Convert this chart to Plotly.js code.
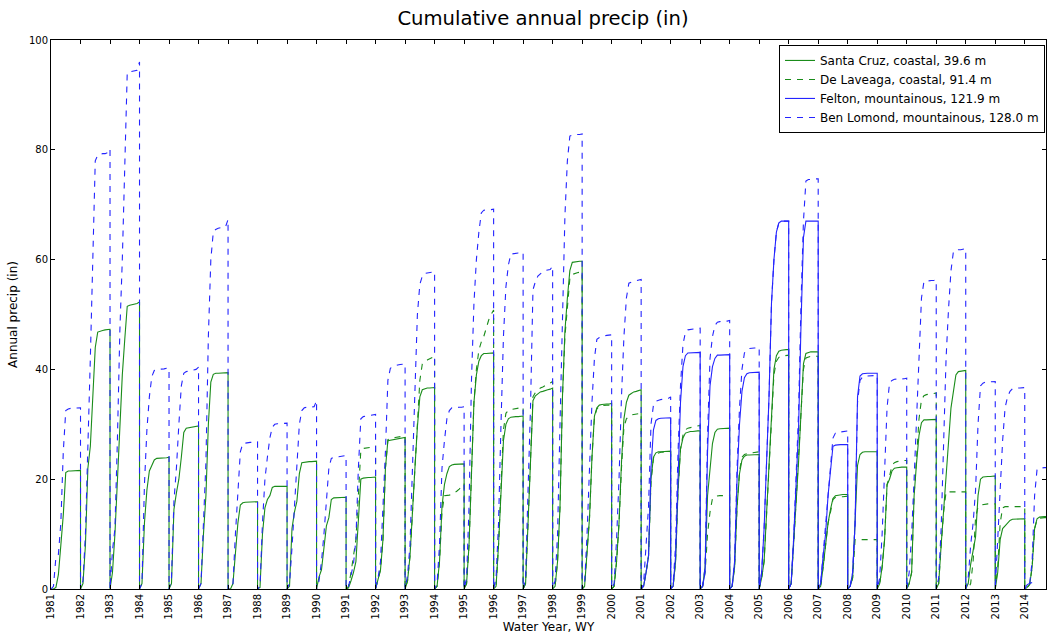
<!DOCTYPE html>
<html><head><meta charset="utf-8">
<script src="https://cdn.plot.ly/plotly-3.0.1.min.js"></script>
<style>html,body{margin:0;padding:0;background:#fff}#chart{width:1048px;height:641px}</style>
</head><body><div id="chart"></div>
<script>
// Water years (tick labels); each year's array = cumulative precip (in) at start + end of each month Oct..Sep
const waterYears = [1981,1982,1983,1984,1985,1986,1987,1988,1989,1990,1991,1992,1993,1994,1995,1996,1997,1998,1999,2000,2001,2002,2003,2004,2005,2006,2007,2008,2009,2010,2011,2012,2013,2014];
const yTicks = [0,20,40,60,80,100];

const santaCruz = [
 [0,0,0.3,2.6,8,13.5,21.2,21.5,21.5,21.5,21.5,21.5,21.6],
 [0,1,8,22,26,35,44,46.8,47,47.1,47.2,47.2,47.3],
 [0,3,10,20,31,39,45.5,51.5,51.7,51.8,51.9,52,52.3],
 [0,1,12,18,21.5,22.5,23.5,23.8,23.8,23.8,23.9,23.9,24],
 [0,1,14.5,17.5,20,24,28.5,29.3,29.4,29.5,29.6,29.6,29.7],
 [0,1,10,17,30,37.7,39.1,39.3,39.3,39.3,39.4,39.4,39.4],
 [0,0,1,6,12,15.3,15.7,15.8,15.8,15.8,15.8,15.8,15.9],
 [0,0.3,10,14.8,16.3,17,18.5,18.7,18.7,18.7,18.7,18.7,18.7],
 [0,0.5,11,14,16,21,23,23.1,23.2,23.2,23.2,23.3,23.3],
 [0,2.2,3.5,7.5,11.5,13,16.3,16.6,16.6,16.6,16.6,16.6,16.7],
 [0,0.2,1.5,3,5,12,20,20.2,20.3,20.3,20.3,20.3,20.4],
 [0,2,3.5,9,22,27,27.1,27.2,27.3,27.3,27.4,27.5,27.6],
 [0,1.5,6,13,22,29.5,35,36.3,36.5,36.6,36.6,36.6,36.7],
 [0,0.5,5,15,19,21,22.3,22.6,22.7,22.7,22.7,22.7,22.8],
 [0,1,8,22,34,39,41.5,42.5,42.9,42.9,42.9,42.9,43],
 [0,0.5,8,18,27,30,31,31.3,31.4,31.4,31.4,31.4,31.5],
 [0,1,12,22,34.3,35.2,35.6,35.9,36,36.2,36.3,36.4,36.6],
 [0,0.5,5,15,35,47,53,58,59.5,59.6,59.6,59.7,59.7],
 [0,0.5,7,13,24,31.5,33,33.5,33.6,33.7,33.7,33.7,33.8],
 [0,0.5,5,12,23,31,34,35.3,35.6,35.9,36,36.1,36.3],
 [0,0.5,3,6,20,24,24.8,25,25,25,25,25.1,25.1],
 [0,0.5,5,18,25.5,27.5,28.4,28.6,28.7,28.7,28.8,28.8,28.8],
 [0,0.5,4,17,22.5,26.5,28.5,29.1,29.2,29.2,29.2,29.2,29.3],
 [0,0.5,4,15,21,23.5,24.2,24.4,24.4,24.4,24.5,24.5,24.5],
 [0,2,5,14,22,31,40,42.5,43.3,43.5,43.6,43.6,43.6],
 [0,1,8,16,23,32,41,42.9,43.1,43.2,43.2,43.2,43.2],
 [0,0.5,4,8,12,14.5,16.5,17,17.1,17.2,17.2,17.2,17.2],
 [0,0.5,2,12,22.5,24.5,24.9,25,25,25,25,25,25],
 [0,1,4,9,19,20,21.5,22,22.1,22.2,22.2,22.2,22.2],
 [0,1,3,17,23,28,30.3,30.8,30.8,30.8,30.8,30.8,30.9],
 [0,1,8,14,21,26,33,36,39,39.6,39.7,39.7,39.8],
 [0,1,4.5,7,9.5,17,20,20.4,20.5,20.5,20.5,20.6,20.6],
 [0,3,9,11,11.5,12,12.5,12.7,12.7,12.7,12.8,12.8,12.8],
 [0,0.3,0.8,4,11,12.8,13.1,13.2,13.2,13.2]
];

const deLaveaga = [
 null,null,null,null,null,null,null,null,null,null,
 [0,0.5,3,6,9,17,25.3,25.6,25.7,25.7,25.8,25.8,26],
 [0,2,3.5,9,22,27.2,27.4,27.5,27.6,27.7,27.7,27.8,27.9],
 [0,1.5,6,13,22,30,38,41,41.5,41.7,41.9,42.1,42.4],
 [0,0.5,5,14,17,17,17.1,17.3,17.5,17.8,18.2,18.7,19.2],
 [0,1,8,22,34,40,43.5,45,46,47.5,49,50,50.8],
 [0,0.5,8,19,29,32,32.5,32.7,32.8,32.9,33,33,33.1],
 [0,1,12,23,35,35.8,36.3,36.6,36.8,37,37.2,37.5,37.8],
 [0,0.5,5,15,35,46,52,56.5,57.3,57.5,57.6,57.7,57.8],
 [0,0.5,7,13,24,31.3,32.8,33.3,33.4,33.5,33.5,33.5,33.6],
 [0,0.5,5,12,22,29.5,31,31.5,31.7,31.8,31.9,32,32],
 [0,0.5,3,6,19.5,23.8,24.6,24.8,24.9,24.9,24.9,25,25],
 [0,0.5,5,18,25.5,28,29,29.3,29.4,29.5,29.6,29.7,29.8],
 [0,0.5,3,10,14,16.5,16.9,17,17,17,17,17,17.1],
 [0,0.5,4,15,21.5,24,24.5,24.7,24.8,24.8,24.9,24.9,25],
 [0,2,5,14,22,30.5,39,41.5,42.2,42.4,42.5,42.5,42.6],
 [0,1,8,16,23,31.5,40,42.1,42.3,42.4,42.4,42.4,42.4],
 [0,0.5,4,8,12,14,16.3,16.7,16.8,16.8,16.8,16.8,16.9],
 [0,0.5,2,9,9,9,9,9,9,9,9,9,9],
 [0,1,4,9,19,20.5,22.5,23,23.2,23.3,23.3,23.4,23.4],
 [0,1,3,17,24,31,34.5,35.2,35.4,35.5,35.5,35.6,35.7],
 [0,1,8,14,17.7,17.7,17.7,17.7,17.7,17.7,17.7,17.7,17.7],
 [0,0,1,5,13,15,15.3,15.4,15.4,15.5,15.5,15.5,15.5],
 [0,4,12,14.8,15,15,15,15,15,15,15,15,15],
 [0,0.3,0.8,4,11,12.6,12.9,13,13,13]
];

const felton = [
 null,null,null,null,null,null,null,null,null,null,
 null,null,null,null,null,null,null,null,null,null,
 [0,0.5,3,6,22,29,30.7,31,31.1,31.1,31.1,31.1,31.2],
 [0,0.5,6,22,34,40.5,42.5,43,43,43,43,43,43.1],
 [0,0.5,3,25,37,40.5,42,42.6,42.6,42.6,42.6,42.7,42.7],
 [0,0.5,5,20,30,36,38.5,39.2,39.4,39.4,39.5,39.5,39.5],
 [0,3,11,22,35,52,60,65,66.7,67,67,67,67],
 [0,1,9,20,29,48,64,67,67,67,67,67,67],
 [0,1,6,10,17,22,26,26.2,26.3,26.3,26.3,26.3,26.3],
 [0,0.5,3,12,35,38.8,39.2,39.3,39.3,39.3,39.3,39.3,39.3],
 [0],
 null,null,null,null,
 [0,0.8,1,1.2]
];

const benLomond = [
 [0,0.5,5.8,6.3,12,25,32.5,32.8,32.9,32.9,32.9,32.9,33],
 [0,1.5,10,24,42,60,78,79,79.2,79.3,79.3,79.5,80.2],
 [0,7,11,27,47,60,80,94,94.2,94.3,94.4,94.5,96],
 [0,1,19,29,35,38.7,39.8,40,40,40.1,40.1,40.2,40.2],
 [0,2,16,22,30,37,39.3,39.6,39.7,39.8,39.9,40,40.4],
 [0,1,13,23,46,60,65,65.5,65.7,65.8,65.9,66,67.3],
 [0,0,1,10,18,25,26.5,26.6,26.7,26.7,26.7,26.8,26.8],
 [0,0.5,12,20,24,27.5,29.5,30,30.1,30.1,30.1,30.1,30.2],
 [0,1,7.5,15.5,24,30,32.5,33,33.1,33.1,33.2,33.2,34.3],
 [0,1.5,5,10,17,22,23.8,24,24.1,24.1,24.2,24.2,24.3],
 [0,0.5,2.5,4.5,9,22,31,31.4,31.5,31.6,31.6,31.7,31.8],
 [0,2,5,14,25,38,40.2,40.5,40.7,40.8,40.9,40.9,41],
 [0,2.5,8,22,34,50,55.5,57,57.5,57.6,57.7,57.7,57.8],
 [0,1,8,22,27,31,32.5,33,33,33.1,33.1,33.1,33.2],
 [0,2,15,38,52,60,65,68.5,69,69,69.1,69.1,69.2],
 [0,2,12,30,46,55,59,61,61.1,61.2,61.2,61.2,61.3],
 [0,2,18,33,54.5,56,57,57.5,57.8,58,58.1,58.2,58.8],
 [0,1.5,10,30,50,68,78,82.5,82.7,82.8,82.8,82.8,82.9],
 [0,1,10,22,34,42,45.5,45.8,46,46.1,46.2,46.2,46.3],
 [0,1,9,20,35,46,53,55.7,55.9,56,56.1,56.2,56.4],
 [0,1,8,15,30,33.5,34.2,34.4,34.5,34.6,34.6,34.7,35],
 [0,1,8,25,37,44.5,46.8,47.2,47.3,47.4,47.4,47.4,47.5],
 [0,0.5,4,28,42,46,48,48.6,48.7,48.8,48.8,48.8,48.9],
 [0,0.5,5,22,33,40,43,43.6,43.8,43.9,43.9,43.9,44],
 [0,3,11,22,35,52,60,65,66.7,67,67,67,67],
 [0,1,9,21,32,52,67,74.3,74.6,74.6,74.7,74.7,74.7],
 [0,1,6.5,11,18,23.5,27.5,28.4,28.6,28.6,28.7,28.7,28.8],
 [0,0.5,3,12,34,38,38.6,38.8,38.8,38.8,38.8,38.9,38.9],
 [0,2,10,22,33,37.5,38,38.2,38.2,38.3,38.3,38.3,38.4],
 [0,3,10,20,32,44,53,56,56.1,56.1,56.2,56.2,56.3],
 [0,2,11,25,42,51,58,61.5,61.7,61.8,61.8,61.9,62],
 [0,2,8,12,18,30,37,37.5,37.7,37.7,37.8,37.8,37.8],
 [0,8,18,27,33,35,36,36.5,36.6,36.6,36.6,36.7,36.7],
 [0,0.8,1,5,17,21.8,22,22.1,22.1,22.1]
];

function buildSeries(vals){
  const x = [], y = [];
  waterYears.forEach((wy, i) => {
    const v = vals[i];
    if (!v) { x.push(wy); y.push(null); return; }
    v.forEach((val, k) => { x.push(wy + k / 12); y.push(val); });
  });
  return {x, y};
}

const GREEN = '#1a8c1a', BLUE = '#2424ff', DASH = '6px,6px';
const specs = [
  {name:'Santa Cruz, coastal, 39.6 m', vals:santaCruz, color:GREEN, dash:'solid'},
  {name:'De Laveaga, coastal, 91.4 m', vals:deLaveaga, color:GREEN, dash:DASH},
  {name:'Felton, mountainous, 121.9 m', vals:felton, color:BLUE, dash:'solid'},
  {name:'Ben Lomond, mountainous, 128.0 m', vals:benLomond, color:BLUE, dash:DASH}
];
const traces = specs.map(s => {
  const d = buildSeries(s.vals);
  return {type:'scatter', mode:'lines', name:s.name, x:d.x, y:d.y, connectgaps:false,
          line:{color:s.color, width:1.1, dash:s.dash}, hoverinfo:'skip'};
});

const axisCommon = {showline:true, linecolor:'#000', linewidth:1, mirror:'ticks', ticks:'inside',
  ticklen:4, tickwidth:1, tickcolor:'#000', showgrid:false, zeroline:false, tickfont:{size:10, color:'#000'}};

const layout = {
  width:1048, height:641,
  margin:{l:51, r:2, t:40, b:52},
  paper_bgcolor:'#fff', plot_bgcolor:'#fff',
  font:{family:'DejaVu Sans, sans-serif', color:'#000'},
  title:{text:'Cumulative annual precip (in)', font:{size:19.6, color:'#000'}, xref:'paper', x:0.4945, xanchor:'center', yref:'container', y:0.972, yanchor:'middle'},
  xaxis:Object.assign({}, axisCommon, {range:[1981, 2014.72], tickmode:'array', tickvals:waterYears,
    ticktext:waterYears.map(String), tickangle:-90,
    title:{text:'Water Year, WY', font:{size:12, color:'#000'}, standoff:4}}),
  yaxis:Object.assign({}, axisCommon, {range:[0,100], tickmode:'array', tickvals:yTicks,
    ticktext:yTicks.map(String), title:{text:'Annual precip (in)', font:{size:12, color:'#000'}, standoff:8}}),
  legend:{x:0.999, xanchor:'right', y:0.991, yanchor:'top', bordercolor:'#000', borderwidth:1,
    bgcolor:'#fff', font:{size:12, color:'#000'}, tracegroupgap:0},
  showlegend:true
};
Plotly.newPlot('chart', traces, layout, {staticPlot:true, displayModeBar:false});
</script></body></html>
